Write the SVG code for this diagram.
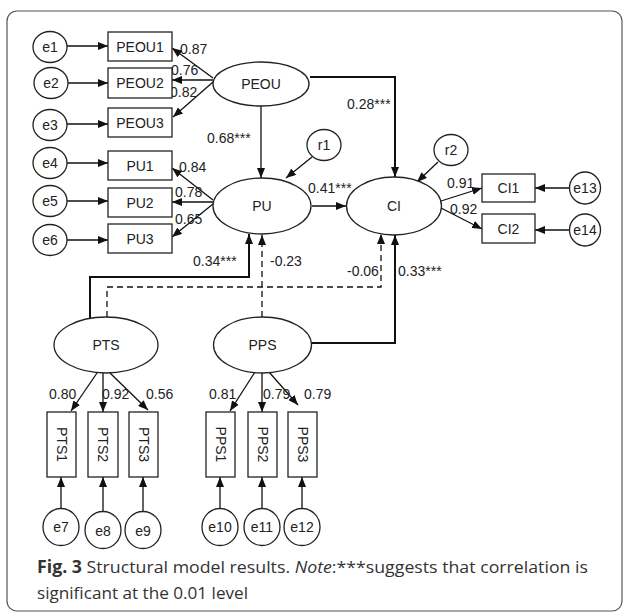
<svg xmlns="http://www.w3.org/2000/svg" width="627" height="613" viewBox="0 0 627 613">
<defs>
<marker id="ah" viewBox="0 0 10 8" refX="10" refY="4" markerWidth="10" markerHeight="8" markerUnits="userSpaceOnUse" orient="auto"><path d="M0,0 L10,4 L0,8 z" fill="#111"/></marker>
<style>
.n{fill:#fff;stroke:#222;stroke-width:1.3}
.t{font-family:"Liberation Sans",Arial,sans-serif;font-size:14px;fill:#222;text-anchor:middle;dominant-baseline:central}
.l{font-family:"Liberation Sans",Arial,sans-serif;font-size:14px;fill:#222}
.c{fill:none;stroke:#111;stroke-width:1.3;marker-end:url(#ah)}
.s{fill:none;stroke:#111;stroke-width:2;marker-end:url(#ah)}
.d{fill:none;stroke:#111;stroke-width:1.3;stroke-dasharray:6,4;marker-end:url(#ah)}
.cap{font-family:"Open Sans","Noto Sans",sans-serif;font-size:17px;fill:#333}
</style>
</defs>
<rect x="7" y="11" width="615" height="600" rx="10" fill="#fff" stroke="#555" stroke-width="1.2"/>
<g id="connectors">
<path class="c" d="M67,46 L108,46"/>
<path class="c" d="M68,83 L108,83"/>
<path class="c" d="M67,124 L108,124"/>
<path class="c" d="M67,163 L108,163"/>
<path class="c" d="M67,201 L108,201"/>
<path class="c" d="M67,240 L108,240"/>
<path class="c" d="M213,78 L172,48"/>
<path class="c" d="M213,80 L172,80"/>
<path class="c" d="M213,82 L173,117"/>
<path class="c" d="M213,200 L172,168"/>
<path class="c" d="M213,202 L172,202"/>
<path class="c" d="M213,204 L172,237"/>
<path class="c" d="M261,106 L261,178"/>
<path class="s" d="M310,77 L395,77 L395,177"/>
<path class="c" d="M312,157 L286,178"/>
<path class="c" d="M438,162 L417,182"/>
<path class="c" d="M312,206 L346,206"/>
<path class="c" d="M441,201 L482,188"/>
<path class="c" d="M441,208 L482,229"/>
<path class="c" d="M570,188 L535,188"/>
<path class="c" d="M570,230 L535,230"/>
<path class="s" d="M90,318 L90,277 L249,277 L249,234"/>
<path class="d" d="M107,317 L107,287 L381,287 L381,234"/>
<path class="d" d="M262,317 L262,235"/>
<path class="s" d="M312,343 L395,343 L395,235"/>
<path class="c" d="M97,373 L71,411"/>
<path class="c" d="M103,373 L103,412"/>
<path class="c" d="M110,373 L148,410"/>
<path class="c" d="M255,372 L230,411"/>
<path class="c" d="M262,373 L262,412"/>
<path class="c" d="M269,372 L298,405"/>
<path class="c" d="M61,509 L61,477"/>
<path class="c" d="M103,512 L103,477"/>
<path class="c" d="M143,512 L143,477"/>
<path class="c" d="M220,509 L220,477"/>
<path class="c" d="M262,509 L262,477"/>
<path class="c" d="M302,509 L302,477"/>
</g>
<g id="labels">
<text class="l" x="180" y="54">0.87</text>
<text class="l" x="171" y="75">0.76</text>
<text class="l" x="170" y="97">0.82</text>
<text class="l" x="207" y="143">0.68***</text>
<text class="l" x="179" y="172">0.84</text>
<text class="l" x="175" y="197">0.78</text>
<text class="l" x="175" y="224">0.65</text>
<text class="l" x="347" y="109">0.28***</text>
<text class="l" x="308" y="193">0.41***</text>
<text class="l" x="447" y="188">0.91</text>
<text class="l" x="450" y="214">0.92</text>
<text class="l" x="193" y="266">0.34***</text>
<text class="l" x="270" y="266">-0.23</text>
<text class="l" x="347" y="276">-0.06</text>
<text class="l" x="398" y="276">0.33***</text>
<text class="l" x="49" y="399">0.80</text>
<text class="l" x="102" y="399">0.92</text>
<text class="l" x="146" y="399">0.56</text>
<text class="l" x="209" y="399">0.81</text>
<text class="l" x="263" y="399">0.79</text>
<text class="l" x="304" y="399">0.79</text>
</g>
<g id="e1"><ellipse class="n" cx="50" cy="47" rx="17" ry="15.5"/><text class="t" x="50" y="47">e1</text></g>
<g id="e2"><ellipse class="n" cx="51" cy="83" rx="17" ry="15.5"/><text class="t" x="51" y="83">e2</text></g>
<g id="e3"><ellipse class="n" cx="50" cy="125" rx="17" ry="15.5"/><text class="t" x="50" y="125">e3</text></g>
<g id="e4"><ellipse class="n" cx="50" cy="163" rx="17" ry="15.5"/><text class="t" x="50" y="163">e4</text></g>
<g id="e5"><ellipse class="n" cx="50" cy="201" rx="17" ry="15.5"/><text class="t" x="50" y="201">e5</text></g>
<g id="e6"><ellipse class="n" cx="50" cy="240" rx="17" ry="15.5"/><text class="t" x="50" y="240">e6</text></g>
<g id="PEOU1"><rect class="n" x="108" y="32" width="64" height="29"/><text class="t" x="140" y="46.5">PEOU1</text></g>
<g id="PEOU2"><rect class="n" x="108" y="68" width="64" height="30"/><text class="t" x="140" y="83">PEOU2</text></g>
<g id="PEOU3"><rect class="n" x="108" y="108" width="64" height="29"/><text class="t" x="140" y="122.5">PEOU3</text></g>
<g id="PU1"><rect class="n" x="108" y="151" width="64" height="29"/><text class="t" x="140" y="165.5">PU1</text></g>
<g id="PU2"><rect class="n" x="108" y="188" width="64" height="29"/><text class="t" x="140" y="202.5">PU2</text></g>
<g id="PU3"><rect class="n" x="108" y="224" width="64" height="29"/><text class="t" x="140" y="238.5">PU3</text></g>
<g id="PEOU"><ellipse class="n" cx="261" cy="84" rx="48" ry="22"/><text class="t" x="261" y="84">PEOU</text></g>
<g id="PU"><ellipse class="n" cx="262" cy="206" rx="49" ry="28"/><text class="t" x="262" y="206">PU</text></g>
<g id="CI"><ellipse class="n" cx="394" cy="206" rx="47.5" ry="29"/><text class="t" x="394" y="206">CI</text></g>
<g id="r1"><ellipse class="n" cx="324" cy="145" rx="17" ry="15.5"/><text class="t" x="324" y="145">r1</text></g>
<g id="r2"><ellipse class="n" cx="451" cy="150" rx="17" ry="15.5"/><text class="t" x="451" y="150">r2</text></g>
<g id="CI1"><rect class="n" x="482" y="174" width="53" height="28"/><text class="t" x="508.5" y="188">CI1</text></g>
<g id="CI2"><rect class="n" x="482" y="214" width="53" height="29"/><text class="t" x="508.5" y="228.5">CI2</text></g>
<g id="e13"><ellipse class="n" cx="585" cy="188" rx="15.5" ry="16"/><text class="t" x="585" y="188">e13</text></g>
<g id="e14"><ellipse class="n" cx="585" cy="230" rx="15.5" ry="16"/><text class="t" x="585" y="230">e14</text></g>
<g id="PTS"><ellipse class="n" cx="106" cy="345" rx="52" ry="28"/><text class="t" x="106" y="345">PTS</text></g>
<g id="PPS"><ellipse class="n" cx="262.5" cy="345" rx="49" ry="28"/><text class="t" x="262.5" y="345">PPS</text></g>
<g id="PTS1"><rect class="n" x="47" y="412" width="29" height="65"/><text class="t" transform="translate(61.5,444.5) rotate(90)">PTS1</text></g>
<g id="PTS2"><rect class="n" x="88" y="412" width="30" height="65"/><text class="t" transform="translate(103,444.5) rotate(90)">PTS2</text></g>
<g id="PTS3"><rect class="n" x="129" y="412" width="29" height="65"/><text class="t" transform="translate(143.5,444.5) rotate(90)">PTS3</text></g>
<g id="PPS1"><rect class="n" x="206" y="412" width="29" height="65"/><text class="t" transform="translate(220.5,444.5) rotate(90)">PPS1</text></g>
<g id="PPS2"><rect class="n" x="248" y="412" width="29" height="65"/><text class="t" transform="translate(262.5,444.5) rotate(90)">PPS2</text></g>
<g id="PPS3"><rect class="n" x="288" y="412" width="29" height="65"/><text class="t" transform="translate(302.5,444.5) rotate(90)">PPS3</text></g>
<g id="e7"><ellipse class="n" cx="61" cy="527" rx="18" ry="18.5"/><text class="t" x="61" y="527">e7</text></g>
<g id="e8"><ellipse class="n" cx="103" cy="530" rx="18" ry="18.5"/><text class="t" x="103" y="531">e8</text></g>
<g id="e9"><ellipse class="n" cx="143" cy="530" rx="18" ry="18.5"/><text class="t" x="143" y="531">e9</text></g>
<g id="e10"><ellipse class="n" cx="220" cy="527" rx="18" ry="18.5"/><text class="t" x="220" y="527">e10</text></g>
<g id="e11"><ellipse class="n" cx="262" cy="527" rx="18" ry="18.5"/><text class="t" x="262" y="527">e11</text></g>
<g id="e12"><ellipse class="n" cx="302" cy="527" rx="18" ry="18.5"/><text class="t" x="302" y="527">e12</text></g>
<g id="caption">
<text class="cap" x="37" y="573" textLength="551" lengthAdjust="spacingAndGlyphs"><tspan font-weight="bold">Fig. 3</tspan>  Structural model results. <tspan font-style="italic">Note</tspan>:***suggests that correlation is</text>
<text class="cap" x="37" y="599" textLength="211" lengthAdjust="spacingAndGlyphs">significant at the 0.01 level</text>
</g>
</svg>
